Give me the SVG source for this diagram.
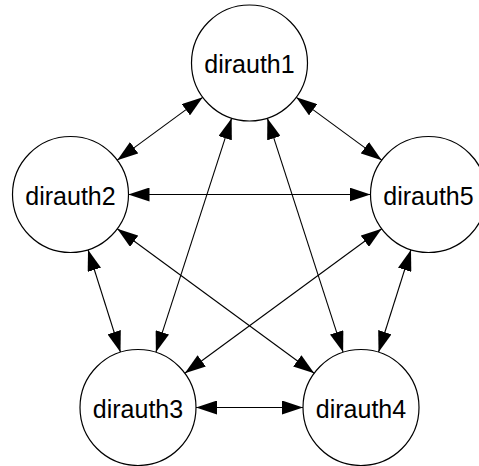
<svg xmlns="http://www.w3.org/2000/svg" width="479" height="466" viewBox="0 0 479 466">
<style>
.node circle{fill:#fff;stroke:#000;stroke-width:1.2}
.node text{font-family:"Liberation Sans",Arial,sans-serif;font-size:25px;text-anchor:middle;fill:#000}
.edge line{stroke:#000;stroke-width:1.1;marker-start:url(#ah);marker-end:url(#ah)}
</style>
<defs>
<marker id="ah" viewBox="0 0 21 14" refX="21" refY="7" markerWidth="21" markerHeight="14" markerUnits="userSpaceOnUse" orient="auto-start-reverse">
<path d="M0,0 L21,7 L0,14 z" fill="#000"/>
</marker>
</defs>
<rect width="479" height="466" fill="#fff"/>
<g id="edges" class="edge">
<line x1="202.76" y1="97.34" x2="117.24" y2="160.16"/>
<line x1="296.24" y1="97.34" x2="381.76" y2="160.16"/>
<line x1="231.64" y1="118.18" x2="155.86" y2="352.32"/>
<line x1="267.36" y1="118.18" x2="343.14" y2="352.32"/>
<line x1="128.5" y1="194.5" x2="370.5" y2="194.5"/>
<line x1="88.02" y1="249.79" x2="120.48" y2="352.21"/>
<line x1="410.98" y1="249.79" x2="378.52" y2="352.21"/>
<line x1="117.27" y1="228.8" x2="314.23" y2="373.2"/>
<line x1="381.73" y1="228.8" x2="184.77" y2="373.2"/>
<line x1="196" y1="407.5" x2="303" y2="407.5"/>
</g>
<g id="dirauth1" class="node"><circle cx="249.5" cy="63" r="58"/><text x="249.5" y="73">dirauth1</text></g>
<g id="dirauth2" class="node"><circle cx="70.5" cy="194.5" r="58"/><text x="70.5" y="204.5">dirauth2</text></g>
<g id="dirauth5" class="node"><circle cx="428.5" cy="194.5" r="58"/><text x="428.5" y="204.5">dirauth5</text></g>
<g id="dirauth3" class="node"><circle cx="138" cy="407.5" r="58"/><text x="138" y="417.5">dirauth3</text></g>
<g id="dirauth4" class="node"><circle cx="361" cy="407.5" r="58"/><text x="361" y="417.5">dirauth4</text></g>
</svg>
